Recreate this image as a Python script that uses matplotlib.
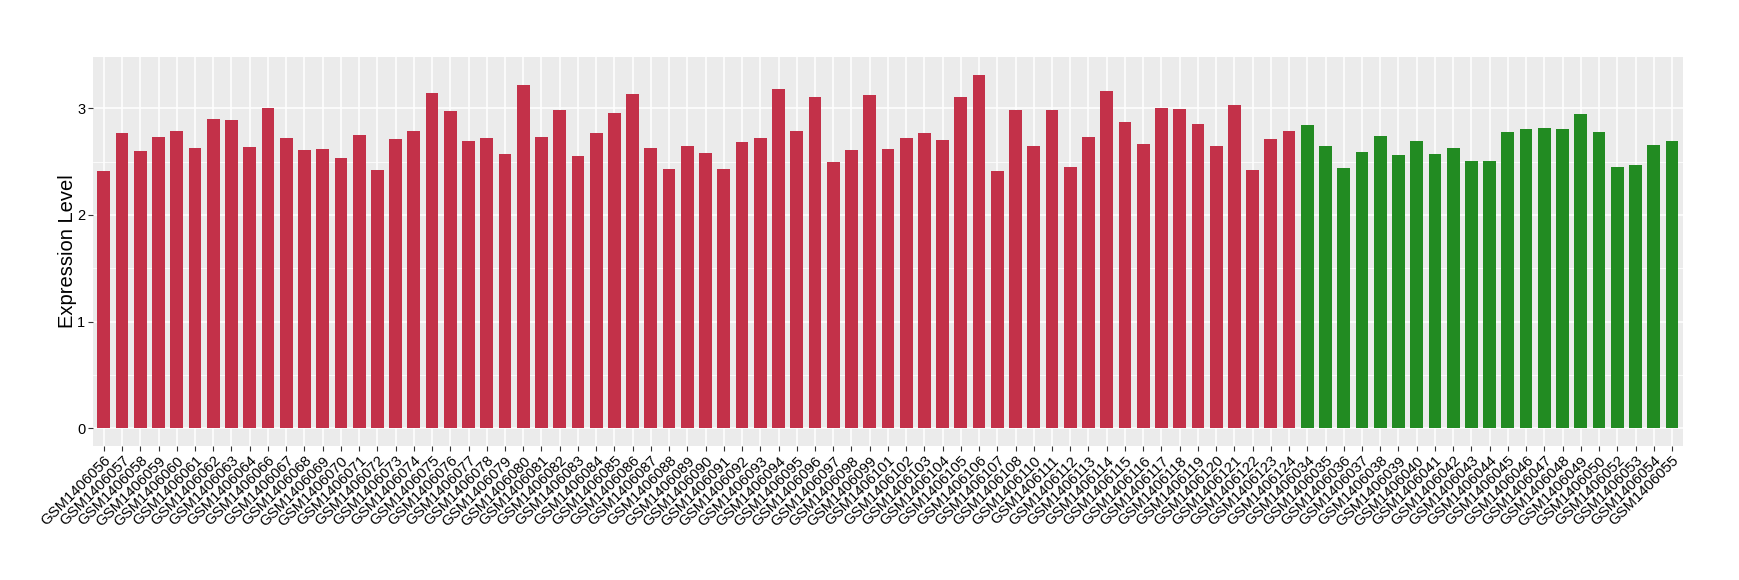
import matplotlib
matplotlib.use("Agg")
import matplotlib.pyplot as plt
from matplotlib.ticker import MultipleLocator

plt.rcParams['font.family'] = ['Liberation Sans', 'DejaVu Sans']

# group 1 (red) samples
red_samples = (
    [f"GSM14060{n}" for n in range(56, 65)]
    + [f"GSM14060{n}" for n in range(66, 100)]
    + [f"GSM1406{n}" for n in range(101, 109)]
    + [f"GSM1406{n}" for n in range(110, 125)]
)
red_values = [
    2.41, 2.77, 2.60, 2.73, 2.79, 2.63, 2.90, 2.89, 2.64, 3.00,
    2.72, 2.61, 2.62, 2.53, 2.75, 2.42, 2.71, 2.785, 3.145, 2.975,
    2.69, 2.72, 2.575, 3.22, 2.73, 2.985, 2.55, 2.765, 2.955, 3.135,
    2.625, 2.435, 2.65, 2.585, 2.435, 2.68, 2.72, 3.18, 2.785, 3.11,
    2.50, 2.605, 3.12, 2.615, 2.72, 2.765, 2.70, 3.11, 3.315, 2.415,
    2.985, 2.65, 2.985, 2.45, 2.73, 3.165, 2.87, 2.67, 3.00, 2.995,
    2.85, 2.65, 3.03, 2.425, 2.71, 2.785,
]

# group 2 (green) samples
green_samples = (
    [f"GSM14060{n}" for n in range(34, 51)]
    + [f"GSM14060{n}" for n in range(52, 56)]
)
green_values = [
    2.84, 2.65, 2.44, 2.595, 2.74, 2.56, 2.69, 2.575, 2.63, 2.51,
    2.51, 2.775, 2.805, 2.82, 2.805, 2.945, 2.775, 2.45, 2.47, 2.66,
    2.69,
]

red_color = "#C33149"
green_color = "#228B22"

labels = red_samples + green_samples
values = red_values + green_values
colors = [red_color] * len(red_values) + [green_color] * len(green_values)

fig = plt.figure(figsize=(17.4, 5.8), dpi=100)
ax = fig.add_axes([0.0534, 0.231, 0.9138, 0.6707])
ax.set_facecolor("#EBEBEB")

x = list(range(len(labels)))
ax.bar(x, values, width=0.7, color=colors, zorder=3)

ax.set_xlim(-0.6, len(labels) - 0.4)
vmax = max(values)
ax.set_ylim(-0.05 * vmax, vmax * 1.05)

ax.yaxis.set_major_locator(MultipleLocator(1))
ax.yaxis.set_minor_locator(MultipleLocator(0.5))
ax.grid(True, which="major", color="white", linewidth=1.1, zorder=0)
ax.grid(True, which="minor", axis="y", color="white", linewidth=0.55, zorder=0)

ax.set_xticks(x)
ax.set_xticklabels(labels, rotation=45, ha="right", rotation_mode="anchor",
                   fontsize=10.7, color="black")
ax.tick_params(axis="both", which="major", length=3.5, color="#333333",
               labelsize=10.5, labelcolor="black", pad=2)
ax.tick_params(axis="x", labelsize=10.7)
ax.tick_params(axis="y", which="minor", length=0)
for s in ax.spines.values():
    s.set_visible(False)

ax.set_ylabel("Expression Level", fontsize=14.5, color="black", labelpad=0)

fig.savefig("out.png", dpi=100)
